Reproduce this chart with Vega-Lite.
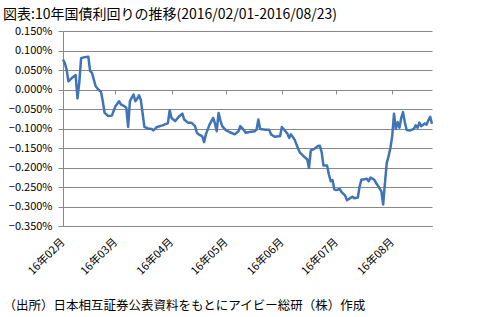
{
  "$schema": "https://vega.github.io/schema/vega-lite/v6.json",
  "width": 369,
  "height": 195,
  "autosize": {"type": "none"},
  "padding": {"left": 63, "top": 31, "right": 48, "bottom": 91},
  "background": "white",
  "config": {"view": {"stroke": null}, "font": "Noto Sans CJK JP"},
  "title": {
    "text": "図表:10年国債利回りの推移(2016/02/01-2016/08/23)",
    "anchor": "start", "frame": "group", "dx": -60, "offset": 3,
    "fontSize": 14, "fontWeight": "normal", "color": "#000000", "font": "Noto Sans CJK JP"
  },
  "data": {"values": [
    {"d":"2016-02-01","v":0.077},{"d":"2016-02-02","v":0.068},{"d":"2016-02-03","v":0.051},{"d":"2016-02-04","v":0.021},
    {"d":"2016-02-06","v":0.030},{"d":"2016-02-08","v":0.037},{"d":"2016-02-09","v":-0.023},{"d":"2016-02-10","v":0.017},
    {"d":"2016-02-11","v":0.080},{"d":"2016-02-13","v":0.083},{"d":"2016-02-15","v":0.084},{"d":"2016-02-16","v":0.047},
    {"d":"2016-02-17","v":0.043},{"d":"2016-02-18","v":0.026},{"d":"2016-02-19","v":0.009},{"d":"2016-02-20","v":0.003},
    {"d":"2016-02-21","v":-0.002},{"d":"2016-02-22","v":-0.006},{"d":"2016-02-23","v":-0.030},{"d":"2016-02-24","v":-0.060},
    {"d":"2016-02-26","v":-0.068},{"d":"2016-02-28","v":-0.067},{"d":"2016-03-01","v":-0.043},{"d":"2016-03-03","v":-0.030},
    {"d":"2016-03-04","v":-0.038},{"d":"2016-03-06","v":-0.043},{"d":"2016-03-07","v":-0.047},{"d":"2016-03-08","v":-0.096},
    {"d":"2016-03-09","v":-0.030},{"d":"2016-03-10","v":-0.021},{"d":"2016-03-11","v":-0.013},{"d":"2016-03-12","v":-0.030},
    {"d":"2016-03-13","v":-0.024},{"d":"2016-03-14","v":-0.015},{"d":"2016-03-15","v":-0.026},{"d":"2016-03-17","v":-0.096},
    {"d":"2016-03-19","v":-0.100},{"d":"2016-03-21","v":-0.101},{"d":"2016-03-22","v":-0.105},{"d":"2016-03-24","v":-0.096},
    {"d":"2016-03-27","v":-0.092},{"d":"2016-03-29","v":-0.088},{"d":"2016-03-30","v":-0.086},{"d":"2016-03-31","v":-0.053},
    {"d":"2016-04-01","v":-0.073},{"d":"2016-04-03","v":-0.081},{"d":"2016-04-05","v":-0.070},{"d":"2016-04-07","v":-0.062},
    {"d":"2016-04-08","v":-0.077},{"d":"2016-04-10","v":-0.085},{"d":"2016-04-12","v":-0.085},{"d":"2016-04-14","v":-0.094},
    {"d":"2016-04-15","v":-0.111},{"d":"2016-04-16","v":-0.115},{"d":"2016-04-18","v":-0.120},{"d":"2016-04-19","v":-0.135},
    {"d":"2016-04-20","v":-0.115},{"d":"2016-04-22","v":-0.090},{"d":"2016-04-24","v":-0.073},{"d":"2016-04-25","v":-0.087},
    {"d":"2016-04-26","v":-0.107},{"d":"2016-04-27","v":-0.060},{"d":"2016-04-28","v":-0.079},{"d":"2016-04-29","v":-0.094},
    {"d":"2016-05-01","v":-0.104},{"d":"2016-05-03","v":-0.109},{"d":"2016-05-06","v":-0.115},{"d":"2016-05-08","v":-0.107},
    {"d":"2016-05-09","v":-0.094},{"d":"2016-05-11","v":-0.104},{"d":"2016-05-12","v":-0.111},{"d":"2016-05-14","v":-0.109},
    {"d":"2016-05-17","v":-0.107},{"d":"2016-05-18","v":-0.103},{"d":"2016-05-19","v":-0.077},{"d":"2016-05-20","v":-0.101},
    {"d":"2016-05-23","v":-0.103},{"d":"2016-05-25","v":-0.103},{"d":"2016-05-26","v":-0.115},{"d":"2016-05-28","v":-0.121},
    {"d":"2016-05-30","v":-0.120},{"d":"2016-05-31","v":-0.120},{"d":"2016-06-01","v":-0.096},{"d":"2016-06-03","v":-0.107},
    {"d":"2016-06-04","v":-0.113},{"d":"2016-06-05","v":-0.124},{"d":"2016-06-06","v":-0.115},{"d":"2016-06-08","v":-0.128},
    {"d":"2016-06-10","v":-0.152},{"d":"2016-06-11","v":-0.162},{"d":"2016-06-13","v":-0.171},{"d":"2016-06-15","v":-0.179},
    {"d":"2016-06-16","v":-0.201},{"d":"2016-06-17","v":-0.156},{"d":"2016-06-19","v":-0.152},{"d":"2016-06-21","v":-0.145},
    {"d":"2016-06-22","v":-0.144},{"d":"2016-06-23","v":-0.161},{"d":"2016-06-24","v":-0.195},{"d":"2016-06-26","v":-0.195},
    {"d":"2016-06-27","v":-0.218},{"d":"2016-06-28","v":-0.235},{"d":"2016-06-29","v":-0.232},{"d":"2016-06-30","v":-0.256},
    {"d":"2016-07-01","v":-0.258},{"d":"2016-07-03","v":-0.255},{"d":"2016-07-04","v":-0.263},{"d":"2016-07-06","v":-0.272},
    {"d":"2016-07-07","v":-0.284},{"d":"2016-07-09","v":-0.278},{"d":"2016-07-10","v":-0.275},{"d":"2016-07-11","v":-0.279},
    {"d":"2016-07-13","v":-0.277},{"d":"2016-07-14","v":-0.248},{"d":"2016-07-15","v":-0.231},{"d":"2016-07-16","v":-0.231},
    {"d":"2016-07-18","v":-0.229},{"d":"2016-07-19","v":-0.235},{"d":"2016-07-20","v":-0.226},{"d":"2016-07-22","v":-0.231},
    {"d":"2016-07-23","v":-0.239},{"d":"2016-07-24","v":-0.246},{"d":"2016-07-26","v":-0.261},{"d":"2016-07-27","v":-0.295},
    {"d":"2016-07-28","v":-0.239},{"d":"2016-07-29","v":-0.188},{"d":"2016-07-30","v":-0.171},{"d":"2016-07-31","v":-0.150},
    {"d":"2016-08-01","v":-0.120},{"d":"2016-08-02","v":-0.062},{"d":"2016-08-03","v":-0.101},{"d":"2016-08-04","v":-0.084},
    {"d":"2016-08-05","v":-0.098},{"d":"2016-08-06","v":-0.073},{"d":"2016-08-07","v":-0.058},{"d":"2016-08-08","v":-0.085},
    {"d":"2016-08-09","v":-0.104},{"d":"2016-08-11","v":-0.105},{"d":"2016-08-13","v":-0.101},{"d":"2016-08-14","v":-0.092},
    {"d":"2016-08-15","v":-0.098},{"d":"2016-08-16","v":-0.085},{"d":"2016-08-17","v":-0.094},{"d":"2016-08-19","v":-0.087},
    {"d":"2016-08-20","v":-0.090},{"d":"2016-08-21","v":-0.079},{"d":"2016-08-22","v":-0.070},{"d":"2016-08-23","v":-0.088}
  ]},
  "encoding": {
    "y": {
      "field": "v", "type": "quantitative",
      "scale": {"domain": [-0.35, 0.15], "nice": false, "zero": false},
      "axis": {
        "orient": "left", "title": null,
        "values": [-0.35, -0.3, -0.25, -0.2, -0.15, -0.1, -0.05, 0, 0.05, 0.1, 0.15],
        "labelExpr": "format(datum.value, '.3f') + '%'",
        "labelFontSize": 11, "labelColor": "#000000", "labelPadding": 6,
        "grid": true, "gridColor": "#888888", "gridWidth": 1,
        "domain": true, "domainColor": "#888888",
        "ticks": true, "tickSize": 5, "tickColor": "#888888"
      }
    }
  },
  "layer": [
    {
      "mark": {"type": "line", "color": "#3f74b6", "strokeWidth": 2.5, "strokeJoin": "round"},
      "encoding": {
        "x": {
          "field": "d", "type": "temporal",
          "scale": {"type": "utc", "domain": [{"year": 2016, "month": 2, "date": 1, "utc": true}, {"year": 2016, "month": 8, "date": 23, "utc": true}], "nice": false},
          "axis": {
            "orient": "bottom",
            "values": [
              {"year": 2016, "month": 2, "date": 1, "utc": true},
              {"year": 2016, "month": 3, "date": 1, "utc": true},
              {"year": 2016, "month": 4, "date": 1, "utc": true},
              {"year": 2016, "month": 5, "date": 1, "utc": true},
              {"year": 2016, "month": 6, "date": 1, "utc": true},
              {"year": 2016, "month": 7, "date": 1, "utc": true},
              {"year": 2016, "month": 8, "date": 1, "utc": true}
            ],
            "labelExpr": "'16年' + utcFormat(datum.value, '%m') + '月'",
            "labelAngle": -45, "labelAlign": "right", "labelBaseline": "middle",
            "labelFontSize": 11, "labelColor": "#000000", "labelPadding": 14,
            "grid": false, "ticks": false, "domain": true, "domainColor": "#888888",
            "title": "（出所）日本相互証券公表資料をもとにアイビー総研（株）作成",
            "titleFontSize": 12.5, "titleFontWeight": "normal", "titleColor": "#000000",
            "titleAlign": "left", "titleBaseline": "alphabetic", "titleAnchor": "start",
            "titleX": -60, "titleY": 83
          }
        }
      }
    },
    {
      "mark": {"type": "line", "opacity": 0},
      "encoding": {
        "x": {
          "field": "d", "type": "temporal",
          "axis": {
            "orient": "bottom", "offset": -136,
            "values": [
              {"year": 2016, "month": 2, "date": 1, "utc": true},
              {"year": 2016, "month": 3, "date": 1, "utc": true},
              {"year": 2016, "month": 4, "date": 1, "utc": true},
              {"year": 2016, "month": 5, "date": 1, "utc": true},
              {"year": 2016, "month": 6, "date": 1, "utc": true},
              {"year": 2016, "month": 7, "date": 1, "utc": true},
              {"year": 2016, "month": 8, "date": 1, "utc": true}
            ],
            "labels": false, "domain": false, "grid": false,
            "ticks": true, "tickSize": 4, "tickColor": "#888888", "title": null
          }
        }
      }
    }
  ],
  "resolve": {"axis": {"x": "independent"}}
}
